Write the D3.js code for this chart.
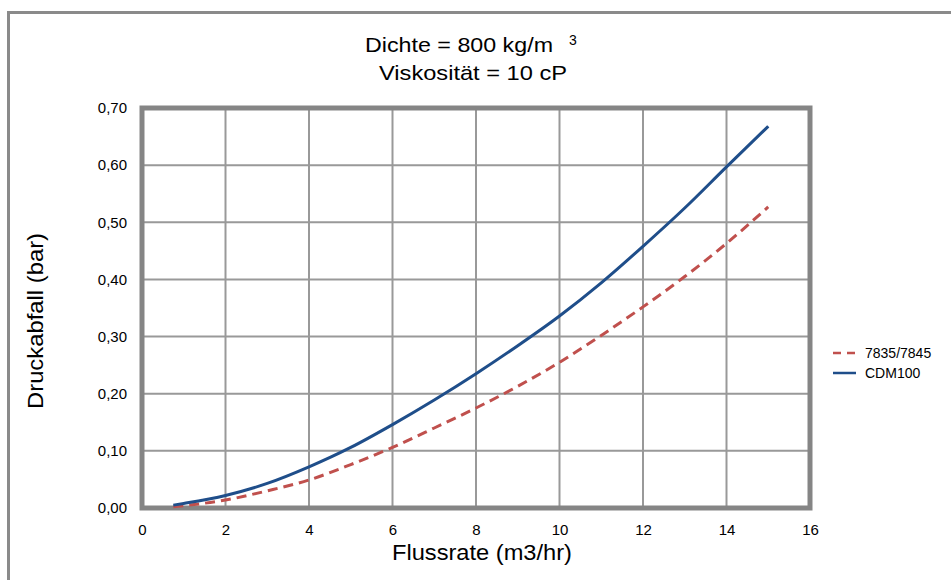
<!DOCTYPE html>
<html>
<head>
<meta charset="utf-8">
<script src="https://d3js.org/d3.v7.min.js"></script>
<style>
  body { margin: 0; background: #fff; }
  text { font-family: "Liberation Sans", Arial, sans-serif; fill: #000; }
</style>
</head>
<body>
<div id="chart"></div>
<script>
// data
const flow = [0.75, 1, 2, 3, 4, 5, 6, 7, 8, 9, 10, 11, 12, 13, 14, 15];
const cdm100 = [0.005, 0.008, 0.022, 0.043, 0.072, 0.106, 0.146, 0.189, 0.235, 0.284, 0.336, 0.394, 0.458, 0.525, 0.597, 0.668];
const dp7835 = [0.002, 0.004, 0.014, 0.030, 0.049, 0.076, 0.106, 0.140, 0.175, 0.213, 0.255, 0.302, 0.352, 0.405, 0.463, 0.527];
const xTicks = [0, 2, 4, 6, 8, 10, 12, 14, 16];
const yTicks = [0, 0.1, 0.2, 0.3, 0.4, 0.5, 0.6, 0.7];
const seriesNames = ["7835/7845", "CDM100"];

const W = 951, H = 580;
const margin = {top: 108, right: 141, bottom: 72, left: 142};
const width = W - margin.left - margin.right,
      height = H - margin.top - margin.bottom;

const svg = d3.select("#chart")
  .append("svg")
  .attr("width", W)
  .attr("height", H);

// outer frame
svg.append("rect")
  .attr("x", 8.5).attr("y", 12.5)
  .attr("width", 960).attr("height", 600)
  .attr("fill", "none")
  .attr("stroke", "#8a8a8a")
  .attr("stroke-width", 3);

// title (text is a bit wide in the original, so stretch it)
svg.append("text")
  .attr("x", 365).attr("y", 52)
  .attr("textLength", 188).attr("lengthAdjust", "spacingAndGlyphs")
  .style("font-size", "21px")
  .text("Dichte = 800 kg/m");
svg.append("text")
  .attr("x", 569).attr("y", 45)
  .style("font-size", "14px")
  .text("3");
svg.append("text")
  .attr("x", 379).attr("y", 80)
  .attr("textLength", 188).attr("lengthAdjust", "spacingAndGlyphs")
  .style("font-size", "21px")
  .text("Viskosität = 10 cP");

const g = svg.append("g")
  .attr("transform", `translate(${margin.left}, ${margin.top})`);

const x = d3.scaleLinear().domain([0, 16]).range([0, width]);
const y = d3.scaleLinear().domain([0, 0.7]).range([height, 0]);

// grid
g.append("g")
  .selectAll("line")
  .data(xTicks.slice(1, -1))
  .join("line")
  .attr("x1", d => x(d)).attr("x2", d => x(d))
  .attr("y1", 0).attr("y2", height)
  .attr("stroke", "#999").attr("stroke-width", 2);
g.append("g")
  .selectAll("line")
  .data(yTicks.slice(1, -1))
  .join("line")
  .attr("x1", 0).attr("x2", width)
  .attr("y1", d => y(d)).attr("y2", d => y(d))
  .attr("stroke", "#999").attr("stroke-width", 2);

// plot frame
g.append("rect")
  .attr("x", 0).attr("y", 0)
  .attr("width", width).attr("height", height)
  .attr("fill", "none")
  .attr("stroke", "#858585")
  .attr("stroke-width", 5);

// axes (labels only)
const xAxis = g.append("g")
  .attr("transform", `translate(0, ${height})`)
  .call(d3.axisBottom(x).tickValues(xTicks).tickSize(0).tickPadding(16));
xAxis.select(".domain").remove();
xAxis.selectAll("text").style("font-size", "15px").attr("fill", "#000");

const fmt = d => d.toFixed(2).replace(".", ",");
const yAxis = g.append("g")
  .call(d3.axisLeft(y).tickValues(yTicks).tickFormat(fmt).tickSize(0).tickPadding(15));
yAxis.select(".domain").remove();
yAxis.selectAll("text").style("font-size", "15px").attr("fill", "#000");

// axis titles
svg.append("text")
  .attr("x", 482).attr("y", 560)
  .attr("text-anchor", "middle")
  .attr("textLength", 180).attr("lengthAdjust", "spacingAndGlyphs")
  .style("font-size", "22px")
  .text("Flussrate (m3/hr)");
svg.append("text")
  .attr("transform", "translate(43, 321) rotate(-90)")
  .attr("text-anchor", "middle")
  .attr("textLength", 176).attr("lengthAdjust", "spacingAndGlyphs")
  .style("font-size", "22px")
  .text("Druckabfall (bar)");

// lines
const line = d3.line()
  .x(d => x(d[0]))
  .y(d => y(d[1]))
  .curve(d3.curveMonotoneX);

g.append("path")
  .datum(flow.map((f, i) => [f, dp7835[i]]))
  .attr("fill", "none")
  .attr("stroke", "#c0504d")
  .attr("stroke-width", 3)
  .attr("stroke-dasharray", "10,6")
  .attr("d", line);

g.append("path")
  .datum(flow.map((f, i) => [f, cdm100[i]]))
  .attr("fill", "none")
  .attr("stroke", "#1f4e8a")
  .attr("stroke-width", 3)
  .attr("d", line);

// legend
const legend = svg.append("g").attr("transform", "translate(833, 353)");
const styles = [{c: "#c0504d", dash: "8,6"}, {c: "#1f4e8a", dash: null}];
seriesNames.forEach((name, i) => {
  const row = legend.append("g").attr("transform", `translate(0, ${i * 20})`);
  row.append("line")
    .attr("x1", 0).attr("x2", 23)
    .attr("stroke", styles[i].c)
    .attr("stroke-width", 2.5)
    .attr("stroke-dasharray", styles[i].dash);
  row.append("text")
    .attr("x", 32).attr("y", 5)
    .style("font-size", "14px")
    .text(name);
});
</script>
</body>
</html>
